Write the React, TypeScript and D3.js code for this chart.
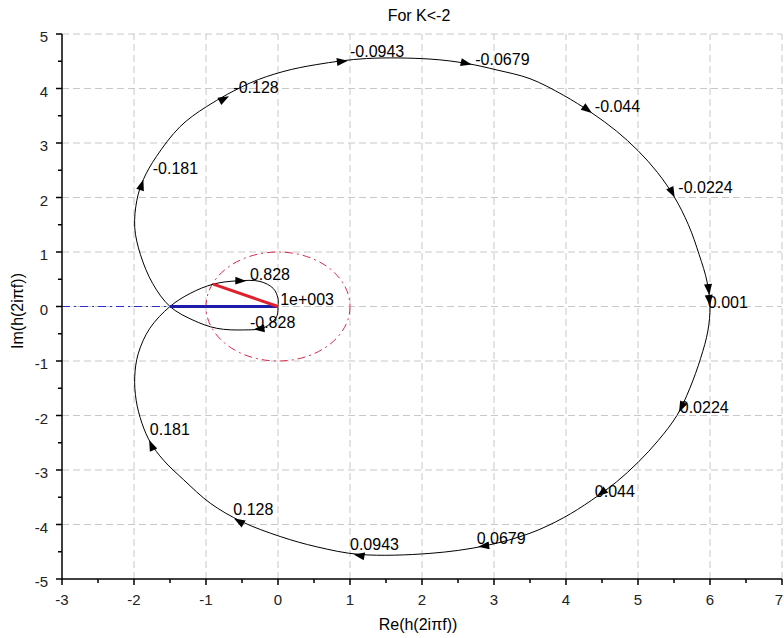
import React from "react";
import * as d3 from "d3";

const width = 784;
const height = 638;

const xTicks = [-3, -2, -1, 0, 1, 2, 3, 4, 5, 6, 7];
const yTicks = [-5, -4, -3, -2, -1, 0, 1, 2, 3, 4, 5];

const lowerSmallLoop: [number, number][] = [
  [0, 0], [-0.02, -0.19], [-0.2, -0.39], [-0.48, -0.43], [-0.85, -0.4], [-1.18, -0.25], [-1.5, 0],
];
const upperBigLoop: [number, number][] = [
  [-1.5, 0], [-1.74, 0.42], [-1.91, 0.95], [-1.99, 1.45], [-1.96, 1.95], [-1.87, 2.33],
  [-1.69, 2.75], [-1.36, 3.3], [-0.99, 3.67], [-0.39, 4.1], [0.07, 4.31], [0.54, 4.44],
  [1.23, 4.55], [2.11, 4.54], [2.62, 4.46], [3.04, 4.34], [3.5, 4.18], [3.96, 3.88],
  [4.35, 3.56], [4.7, 3.22], [5.0, 2.86], [5.27, 2.46], [5.5, 2.02], [5.7, 1.5],
  [5.85, 0.95], [5.96, 0.45], [6.0, 0],
];
const lowerBigLoop: [number, number][] = [
  [6.0, 0], [5.97, -0.45], [5.87, -0.95], [5.72, -1.5], [5.54, -2.0], [5.28, -2.46],
  [5.0, -2.86], [4.7, -3.22], [4.35, -3.56], [3.96, -3.88], [3.5, -4.16], [2.88, -4.39],
  [2.11, -4.53], [1.14, -4.55], [0.54, -4.41], [0.03, -4.22], [-0.5, -3.95], [-0.94, -3.61],
  [-1.31, -3.18], [-1.59, -2.82], [-1.77, -2.5], [-1.89, -2.14], [-1.97, -1.72], [-1.99, -1.29],
  [-1.94, -0.86], [-1.78, -0.4], [-1.5, 0],
];
const upperSmallLoop: [number, number][] = [
  [-1.5, 0], [-1.22, 0.24], [-0.9, 0.41], [-0.57, 0.47], [-0.25, 0.46], [-0.065, 0.33], [0, 0.15], [0, 0],
];

// frequency marks: label text and where its lower-left corner sits
const markText = [
  "-0.828", "-0.181", "-0.128", "-0.0943", "-0.0679", "-0.044", "-0.0224", "0.001",
  "0.0224", "0.044", "0.0679", "0.0943", "0.128", "0.181", "0.828", "1e+003",
];
const markPos: [number, number][] = [
  [-0.39, -0.4], [-1.74, 2.43], [-0.62, 3.91], [1.0, 4.58], [2.74, 4.43], [4.4, 3.57], [5.56, 2.08], [5.97, -0.03],
  [5.58, -1.95], [4.4, -3.49], [2.76, -4.35], [1.0, -4.47], [-0.62, -3.83], [-1.78, -2.36], [-0.39, 0.49], [0.03, 0.03],
];
// arrow tips along the curve
const arrowTips: [number, number][] = [
  [-0.34, -0.42], [-1.87, 2.33], [-0.68, 3.86], [0.97, 4.51], [2.69, 4.44], [4.36, 3.55], [5.51, 2.0],
  [5.99, 0.21], [6.0, 0.01], [5.57, -1.94], [4.43, -3.48], [2.78, -4.41], [1.05, -4.55], [-0.61, -3.89],
  [-1.79, -2.45], [-0.44, 0.47],
];

// extra lines drawn on top of the plot
const redSegment: [number, number][] = [[0, 0], [-0.9, 0.41]];
const blueSegment: [number, number][] = [[-1.5, 0], [0, 0]];
const blueDashDot: [number, number][] = [[-3, 0], [-1.5, 0]];

const font = "'Liberation Sans', Arial, sans-serif";

export default function App() {
  const x = d3.scaleLinear().domain([-3, 7]).range([62, 782]);
  const y = d3.scaleLinear().domain([-5, 5]).range([579, 34]);

  const curve = [
    ...lowerSmallLoop,
    ...upperBigLoop.slice(1),
    ...lowerBigLoop.slice(1),
    ...upperSmallLoop.slice(1),
  ];
  const line = d3
    .line<[number, number]>()
    .x((d) => x(d[0]))
    .y((d) => y(d[1]))
    .curve(d3.curveCatmullRom.alpha(0.5));
  const straight = d3
    .line<[number, number]>()
    .x((d) => x(d[0]))
    .y((d) => y(d[1]));

  const px = curve.map((d) => [x(d[0]), y(d[1])]);
  const arrow = (t: [number, number]) => {
    const p = [x(t[0]), y(t[1])];
    let best = 0;
    let bestD = Infinity;
    for (let i = 0; i < px.length - 1; i++) {
      const a = px[i], b = px[i + 1];
      const vx = b[0] - a[0], vy = b[1] - a[1];
      const len2 = vx * vx + vy * vy || 1;
      let u = ((p[0] - a[0]) * vx + (p[1] - a[1]) * vy) / len2;
      u = Math.max(0, Math.min(1, u));
      const dx = a[0] + u * vx - p[0], dy = a[1] + u * vy - p[1];
      const dd = dx * dx + dy * dy;
      if (dd < bestD) {
        bestD = dd;
        best = i;
      }
    }
    const a = px[best], b = px[best + 1];
    const l = Math.hypot(b[0] - a[0], b[1] - a[1]) || 1;
    const ux = (b[0] - a[0]) / l, uy = (b[1] - a[1]) / l;
    const L = 11, w = 4;
    const bx = p[0] - ux * L, by = p[1] - uy * L;
    return `M${p[0]},${p[1]}L${bx - uy * w},${by + ux * w}L${bx + uy * w},${by - ux * w}Z`;
  };

  const minorX = d3.range(-3, 7.01, 0.5).filter((v) => !xTicks.includes(v));
  const minorY = d3.range(-5, 5.01, 0.5).filter((v) => !yTicks.includes(v));

  return (
    <svg
      width={width}
      height={height}
      style={{ position: "absolute", left: 0, top: 0, background: "#fff" }}
      fontFamily={font}
    >
      {/* grid */}
      <g stroke="#c8c8c8" strokeDasharray="7,4" strokeWidth={1}>
        {xTicks.slice(1).map((t) => (
          <line key={"gx" + t} x1={x(t)} x2={x(t)} y1={y(-5)} y2={y(5)} />
        ))}
        {yTicks.slice(1).map((t) => (
          <line key={"gy" + t} x1={x(-3)} x2={x(7)} y1={y(t)} y2={y(t)} />
        ))}
      </g>

      {/* unit circle and real axis helpers */}
      <ellipse
        cx={x(0)}
        cy={y(0)}
        rx={x(1) - x(0)}
        ry={y(0) - y(1)}
        fill="none"
        stroke="#d42a4a"
        strokeWidth={1}
        strokeDasharray="8,4,2,4"
      />
      <path d={straight(blueDashDot) || ""} stroke="#2d2dc8" strokeWidth={1} strokeDasharray="8,4,2,4" fill="none" />

      {/* nyquist curve */}
      <path d={line(curve) || ""} fill="none" stroke="#000" strokeWidth={1} />
      <path d={straight(blueSegment) || ""} stroke="#1c1ca8" strokeWidth={3} fill="none" />
      <path d={straight(redSegment) || ""} stroke="#e0202c" strokeWidth={3} fill="none" />

      {arrowTips.map((t, i) => (
        <path key={"a" + i} d={arrow(t)} fill="#000" />
      ))}
      {markText.map((s, i) => (
        <text key={"m" + i} x={x(markPos[i][0])} y={y(markPos[i][1])} fontSize={16} fill="#000">
          {s}
        </text>
      ))}

      {/* axes */}
      <g stroke="#000" strokeWidth={1.5}>
        <line x1={x(-3)} x2={x(-3)} y1={y(-5)} y2={y(5)} />
        <line x1={x(-3)} x2={x(7)} y1={y(-5)} y2={y(-5)} />
        {yTicks.map((t) => (
          <line key={"ty" + t} x1={x(-3) - 6} x2={x(-3)} y1={y(t)} y2={y(t)} />
        ))}
        {minorY.map((t) => (
          <line key={"my" + t} x1={x(-3) - 4} x2={x(-3)} y1={y(t)} y2={y(t)} />
        ))}
        {xTicks.map((t) => (
          <line key={"tx" + t} x1={x(t)} x2={x(t)} y1={y(-5)} y2={y(-5) + 6} />
        ))}
        {minorX.map((t) => (
          <line key={"mx" + t} x1={x(t)} x2={x(t)} y1={y(-5)} y2={y(-5) + 4} />
        ))}
      </g>
      <g fontSize={15} fill="#222">
        {yTicks.map((t) => (
          <text key={"ly" + t} x={x(-3) - 14} y={y(t) + 8} textAnchor="end">
            {t}
          </text>
        ))}
        {xTicks.map((t, i) => (
          <text
            key={"lx" + t}
            x={i === xTicks.length - 1 ? width - 1 : x(t)}
            y={y(-5) + 26}
            textAnchor={i === xTicks.length - 1 ? "end" : "middle"}
          >
            {t}
          </text>
        ))}
      </g>

      <text x={419} y={21} textAnchor="middle" fontSize={16}>
        For K&lt;-2
      </text>
      <text x={418} y={630} textAnchor="middle" fontSize={16}>
        Re(h(2iπf))
      </text>
      <text transform={`translate(23, 311) rotate(-90)`} textAnchor="middle" fontSize={16}>
        Im(h(2iπf))
      </text>
    </svg>
  );
}
